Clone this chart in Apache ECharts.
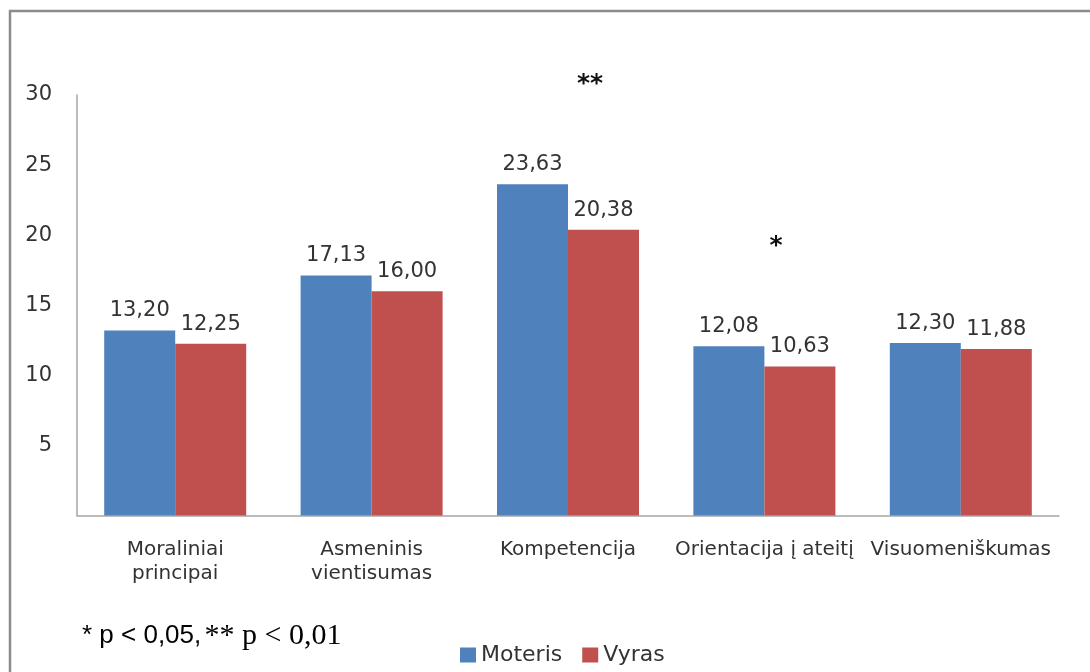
<!DOCTYPE html>
<html>
<head>
<meta charset="utf-8">
<script src="https://cdn.jsdelivr.net/npm/echarts@6/dist/echarts.min.js"></script>
<style>
  html, body { margin: 0; padding: 0; background: #fff; }
  #chart { width: 1090px; height: 672px; }
</style>
</head>
<body>
<div id="chart"></div>
<script>
// Categories and mean scores per group
const categories = ['Moraliniai\nprincipai', 'Asmeninis\nvientisumas', 'Kompetencija', 'Orientacija į ateitį', 'Visuomeniškumas'];
const moteris = [13.20, 17.13, 23.63, 12.08, 12.30];
const vyras = [12.25, 16.00, 20.38, 10.63, 11.88];
const seriesNames = ['Moteris', 'Vyras'];
const yTicks = [0, 5, 10, 15, 20, 25, 30];

const FONT = '"DejaVu Sans", Verdana, sans-serif';
const TEXT = '#333333';

const fmt = v => v.toFixed(2).replace('.', ',');

const chart = echarts.init(document.getElementById('chart'));

const labelStyle = {
  show: true,
  position: 'top',
  distance: 9,
  fontFamily: FONT,
  fontSize: 21,
  color: TEXT,
  formatter: p => fmt(p.value)
};

chart.setOption({
  animation: false,
  backgroundColor: '#ffffff',
  grid: { left: 77, right: 31, top: 95, bottom: 156.5 },
  legend: {
    data: seriesNames,
    left: 455,
    top: 639,
    icon: 'rect',
    itemWidth: 16,
    itemHeight: 15,
    itemGap: 20,
    textStyle: { fontFamily: FONT, fontSize: 22, color: TEXT }
  },
  xAxis: {
    type: 'category',
    data: categories,
    axisLine: { show: true, lineStyle: { color: '#a6a6a6', width: 1.5 } },
    axisTick: { show: false },
    axisLabel: {
      interval: 0,
      margin: 22,
      fontFamily: FONT,
      fontSize: 20,
      lineHeight: 24,
      color: TEXT
    }
  },
  yAxis: {
    type: 'value',
    min: yTicks[0],
    max: yTicks[yTicks.length - 1],
    interval: 5,
    splitLine: { show: false },
    axisTick: { show: false },
    axisLine: { show: true, lineStyle: { color: '#a6a6a6', width: 1.5 } },
    axisLabel: {
      margin: 25,
      fontFamily: FONT,
      fontSize: 21,
      color: TEXT,
      formatter: v => (v === 0 ? '' : String(v))
    }
  },
  series: [
    {
      name: seriesNames[0],
      type: 'bar',
      data: moteris,
      barWidth: 71,
      barGap: '0%',
      itemStyle: { color: '#4f81bd' },
      label: labelStyle
    },
    {
      name: seriesNames[1],
      type: 'bar',
      data: vyras,
      barWidth: 71,
      barGap: '0%',
      itemStyle: { color: '#c0504d' },
      label: labelStyle
    }
  ],
  graphic: [
    // chart frame: top and left edges
    {
      type: 'line',
      shape: { x1: 9, y1: 11, x2: 1090, y2: 11 },
      style: { stroke: '#8c8c8c', lineWidth: 2.5 },
      silent: true
    },
    {
      type: 'line',
      shape: { x1: 10, y1: 10, x2: 10, y2: 672 },
      style: { stroke: '#8c8c8c', lineWidth: 2.5 },
      silent: true
    },
    // significance marks
    {
      type: 'text',
      style: { x: 590, y: 84, text: '**', font: 'bold 25px ' + FONT, fill: '#111', align: 'center', verticalAlign: 'middle' }
    },
    {
      type: 'text',
      style: { x: 776, y: 246, text: '*', font: 'bold 25px ' + FONT, fill: '#111', align: 'center', verticalAlign: 'middle' }
    },
    // footnote
    {
      type: 'text',
      style: {
        x: 82,
        y: 636,
        verticalAlign: 'middle',
        text: '{a|* p < 0,05,} {b|** p < 0,01}',
        rich: {
          a: { fontFamily: '"Liberation Sans", Arial, sans-serif', fontSize: 26, fill: '#000' },
          b: { fontFamily: '"Liberation Serif", "Times New Roman", serif', fontSize: 30, fill: '#000' }
        }
      }
    }
  ]
});
</script>
</body>
</html>
